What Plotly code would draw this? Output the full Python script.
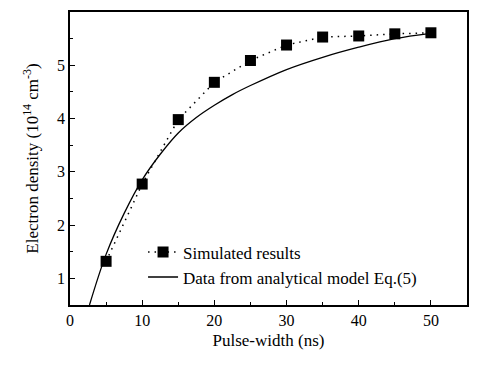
import plotly.graph_objects as go

sim_x = [5, 10, 15, 20, 25, 30, 35, 40, 45, 50]
sim_y = [1.32, 2.77, 3.98, 4.68, 5.09, 5.38, 5.53, 5.55, 5.59, 5.61]

model_x = [2.7, 5, 7.5, 10, 12.5, 15, 17.5, 20, 22.5, 25, 30, 35, 40, 45, 50]
model_y = [0.5, 1.45, 2.22, 2.85, 3.33, 3.73, 4.02, 4.25, 4.45, 4.62, 4.92, 5.15, 5.34, 5.50, 5.60]

x_ticks = [0, 10, 20, 30, 40, 50]
y_ticks = [1, 2, 3, 4, 5]

FONT = "Liberation Serif"

fig = go.Figure()
fig.add_trace(go.Scatter(
    x=sim_x, y=sim_y, mode="lines+markers", name="Simulated results",
    line=dict(color="black", width=1.5, dash="1.5px,5px"),
    marker=dict(symbol="square", size=11, color="black"),
))
fig.add_trace(go.Scatter(
    x=model_x, y=model_y, mode="lines", name="Data from analytical model Eq.(5)",
    line=dict(color="black", width=1.3, shape="spline", smoothing=1.0),
))

axis_common = dict(
    showline=True, linecolor="black", linewidth=1.5, mirror=True,
    ticks="inside", tickcolor="black", ticklen=5, tickwidth=1,
    showgrid=False, zeroline=False, automargin=False,
    tickfont=dict(family=FONT, size=16, color="black"),
)

fig.update_xaxes(
    range=[0, 55], tickvals=x_ticks,
    minor=dict(dtick=5, ticks="inside", ticklen=3, tickcolor="black", showgrid=False),
    title=dict(text="Pulse-width (ns)", font=dict(family=FONT, size=17, color="black"), standoff=6),
    **axis_common,
)
fig.update_yaxes(
    range=[0.5, 6.0], tickvals=y_ticks,
    minor=dict(dtick=0.5, tick0=0, ticks="inside", ticklen=3, tickcolor="black", showgrid=False),
    title=dict(text="Electron density (10<sup>14</sup> cm<sup>-3</sup>)",
               font=dict(family=FONT, size=17, color="black"), standoff=14),
    **axis_common,
)

# the page body has an 8px margin, so the figure is drawn 8px smaller
fig.update_layout(
    width=489, height=358,
    margin=dict(l=62, r=30, t=4, b=61),
    plot_bgcolor="white", paper_bgcolor="white",
    font=dict(family=FONT, size=17, color="black"),
    legend=dict(x=0.184, y=0.137, xanchor="left", yanchor="middle",
                bgcolor="rgba(0,0,0,0)", font=dict(family=FONT, size=17, color="black"),
                tracegroupgap=0, itemwidth=30),
    showlegend=True,
)

fig.write_html("out.html")
